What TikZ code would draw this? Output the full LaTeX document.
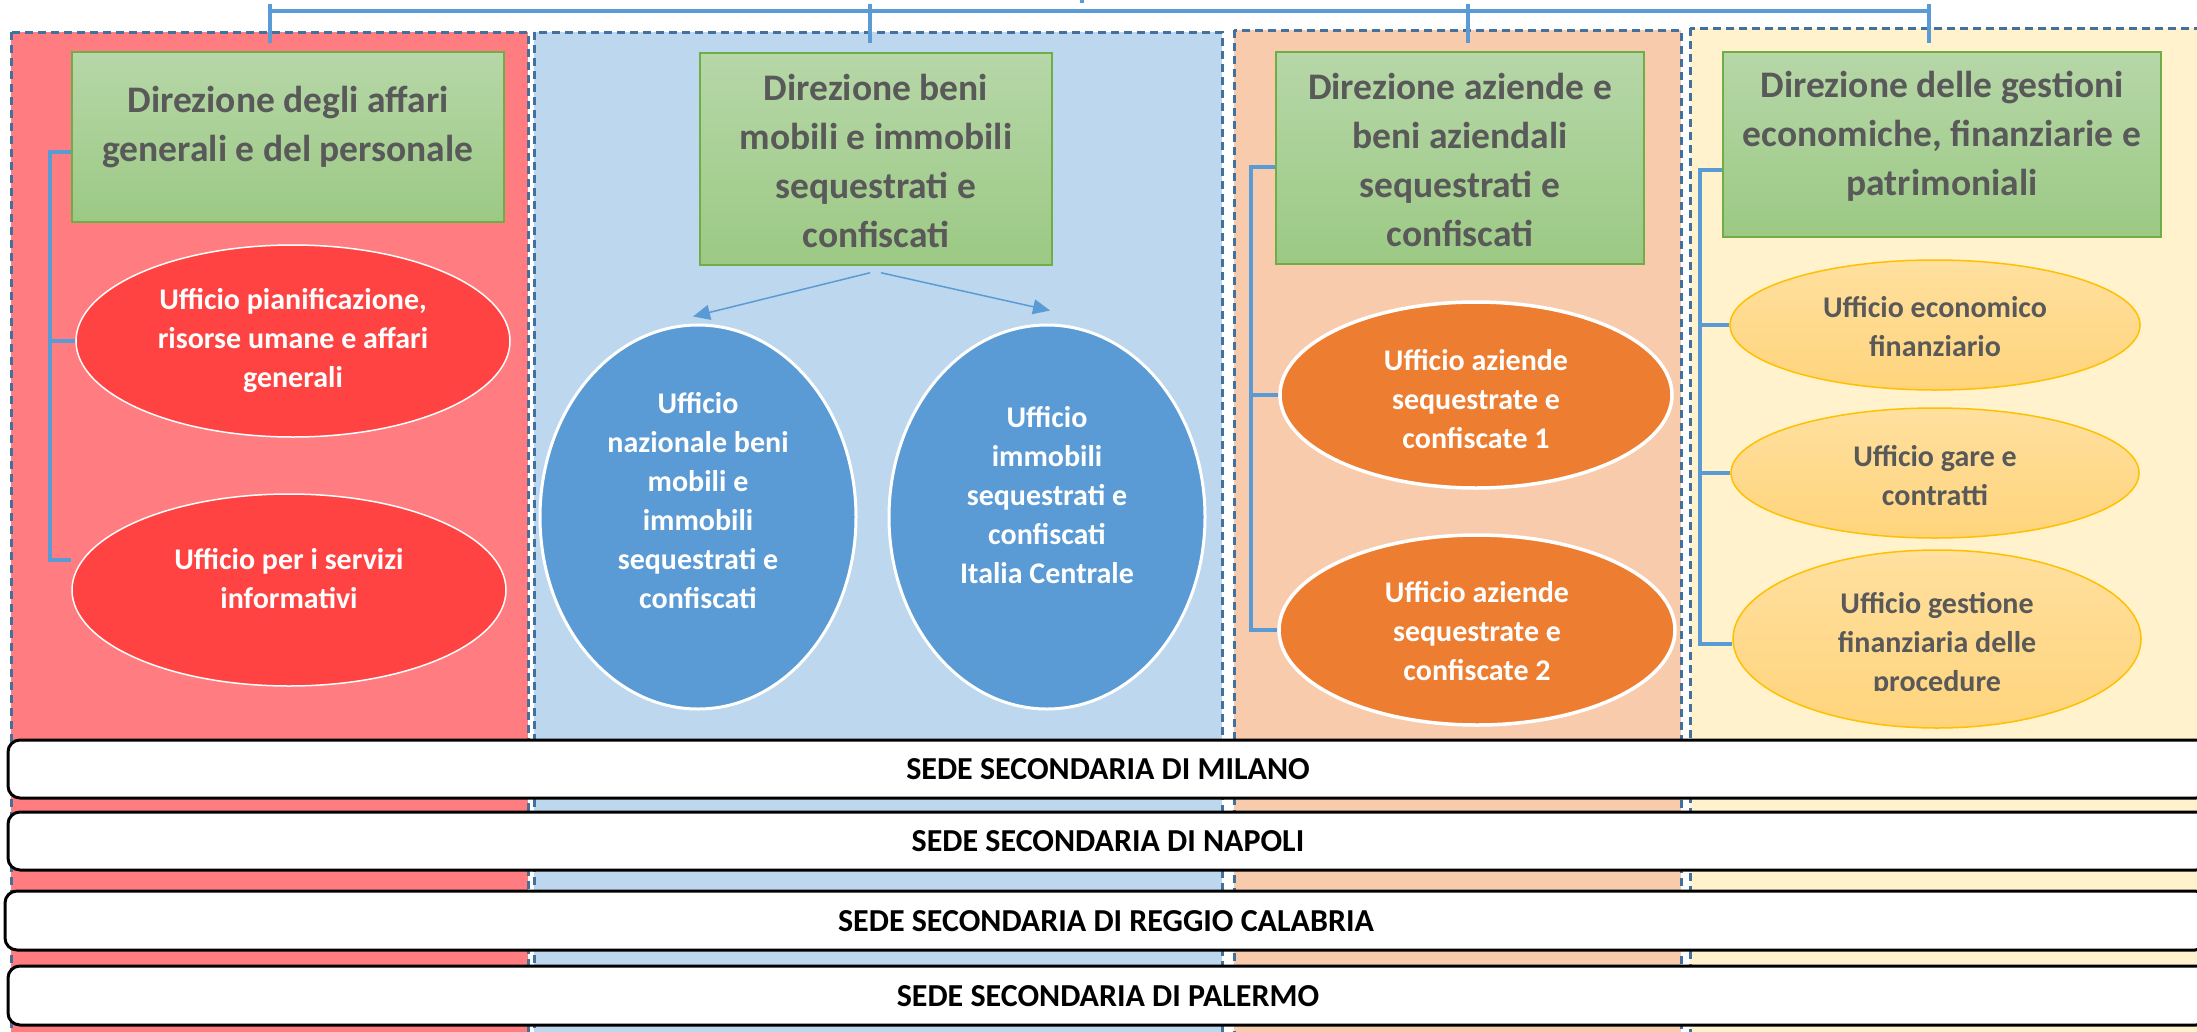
\documentclass[tikz,border=0pt]{standalone}
\usepackage{fontspec}
\setmainfont{Carlito}
\usetikzlibrary{shapes.geometric,arrows.meta,shadings}
\definecolor{redcol}{HTML}{FF7C80}
\definecolor{redell}{HTML}{FF4343}
\definecolor{bluecol}{HTML}{BDD7EE}
\definecolor{blueell}{HTML}{5B9BD5}
\definecolor{peachcol}{HTML}{F8CBAD}
\definecolor{orangeell}{HTML}{ED7D31}
\definecolor{yellowcol}{HTML}{FFF2CC}
\definecolor{yelltop}{HTML}{FFE09F}
\definecolor{yellbot}{HTML}{FFD47C}
\definecolor{yellborder}{HTML}{FFC000}
\definecolor{gtop}{HTML}{B6D7A8}
\definecolor{gbot}{HTML}{9CC984}
\definecolor{gborder}{HTML}{70AD47}
\definecolor{dashc}{HTML}{41719C}
\definecolor{lineblue}{HTML}{5B9BD5}
\definecolor{tgray}{HTML}{595959}
\begin{document}
\begin{tikzpicture}[x=1pt,y=-1pt,
  colborder/.style={draw=dashc, line width=3pt, dash pattern=on 8pt off 5pt},
  gbox/.style={rectangle, draw=gborder, line width=1.5pt, top color=gtop, bottom color=gbot, inner sep=0pt},
  btext/.style={font=\bfseries\fontsize{37.5}{49}\selectfont, text=tgray, align=center, inner sep=0pt},
  etext/.style={font=\bfseries\fontsize{30}{39}\selectfont, align=center, inner sep=0pt},
  redellipse/.style={ellipse, fill=redell, draw=white, line width=1.5pt, inner sep=0pt},
  blueellipse/.style={ellipse, fill=blueell, draw=white, line width=3pt, inner sep=0pt},
  orangeellipse/.style={ellipse, fill=orangeell, draw=white, line width=3.5pt, inner sep=0pt},
  yellowellipse/.style={ellipse, top color=yelltop, bottom color=yellbot, draw=yellborder, line width=1.5pt, inner sep=0pt},
  brk/.style={draw=lineblue, line width=4pt},
  tick/.style={draw=lineblue, line width=3.5pt},
  arr/.style={draw=lineblue, line width=1.5pt, -{Triangle[length=17pt,width=15pt]}},
  sedebar/.style={rectangle, rounded corners=12pt, draw=black, line width=3pt, fill=white, font=\bfseries\fontsize{32}{38}\selectfont, inner sep=0pt, text depth=-4pt}
]
\path[use as bounding box] (0,0) rectangle (2197,1031);
\clip (0,0) rectangle (2197,1031);

% columns
\filldraw[fill=redcol, colborder] (11,32) rectangle (528,1060);
\filldraw[fill=bluecol, colborder] (534,32) rectangle (1222,1060);
\filldraw[fill=peachcol, colborder] (1234,30) rectangle (1681,1060);
\filldraw[fill=yellowcol, colborder] (1690,28) rectangle (2240,1060);

% top bracket
\coordinate (t1) at (270,11);
\coordinate (t2) at (870,11);
\coordinate (t3) at (1468,11);
\coordinate (t4) at (1929,11);
\coordinate (tp) at (1082,0);
\draw[brk] (t1) -- (t4);
\draw[tick] ([yshift=7pt]t1) -- ([yshift=-32pt]t1);
\draw[tick] ([yshift=7pt]t2) -- ([yshift=-32pt]t2);
\draw[tick] ([yshift=7pt]t3) -- ([yshift=-32pt]t3);
\draw[tick] ([yshift=7pt]t4) -- ([yshift=-32pt]t4);
\draw[brk] (tp) -- ++(0,3);

% direction boxes
\node[gbox, minimum width=432pt, minimum height=170pt] (d1) at (288,137) {};
\node[gbox, minimum width=352pt, minimum height=212pt] (d2) at (876,159) {};
\node[gbox, minimum width=368pt, minimum height=212pt] (d3) at (1460,158) {};
\node[gbox, minimum width=438pt, minimum height=185pt] (d4) at (1942,144.5) {};
\node[btext] (d1t) at (288,127) {Direzione degli affari\\generali e del personale};
\node[btext] (d2t) at (876,161) {Direzione beni\\mobili e immobili\\sequestrati e\\confiscati};
\node[btext] (d3t) at (1460,160) {Direzione aziende e\\beni aziendali\\sequestrati e\\confiscati};
\node[btext] (d4t) at (1942,136) {Direzione delle gestioni\\economiche, finanziarie e\\patrimoniali};

% offices
\node[redellipse, minimum width=434pt, minimum height=192pt] (u1) at (293,341) {};
\node[redellipse, minimum width=434pt, minimum height=192pt] (u2) at (289,590) {};
\node[blueellipse, minimum width=316pt, minimum height=384pt] (b1) at (698,517) {};
\node[blueellipse, minimum width=316pt, minimum height=384pt] (b2) at (1047,517) {};
\node[orangeellipse, minimum width=392pt, minimum height=186pt] (a1) at (1476,395) {};
\node[orangeellipse, minimum width=396pt, minimum height=190pt] (a2) at (1477,630) {};
\node[yellowellipse, minimum width=410pt, minimum height=130pt] (y1) at (1935,325) {};
\node[yellowellipse, minimum width=408pt, minimum height=130pt] (y2) at (1935,473) {};
\node[yellowellipse, minimum width=408pt, minimum height=178pt] (y3) at (1937,639) {};

\node[etext, text=white] (u1t) at (293,340) {Ufficio pianificazione,\\risorse umane e affari\\generali};
\node[etext, text=white] (u2t) at (289,579) {Ufficio per i servizi\\informativi};
\node[etext, text=white] (b1t) at (698,501) {Ufficio\\nazionale beni\\mobili e\\immobili\\sequestrati e\\confiscati};
\node[etext, text=white] (b2t) at (1047,495) {Ufficio\\immobili\\sequestrati e\\confiscati\\Italia Centrale};
\node[etext, text=white] (a1t) at (1476,399) {Ufficio aziende\\sequestrate e\\confiscate 1};
\node[etext, text=white] (a2t) at (1477,631) {Ufficio aziende\\sequestrate e\\confiscate 2};
\node[etext, text=tgray] (y1t) at (1935,327) {Ufficio economico\\finanziario};
\node[etext, text=tgray] (y2t) at (1935,476) {Ufficio gare e\\contratti};
\begin{scope}
\clip (1720,540) rectangle (2160,690);
\node[etext, text=tgray] (y3t) at (1937,644) {Ufficio gestione\\finanziaria delle\\procedure};
\end{scope}

% connectors
\coordinate (v1) at (50,152);
\draw[brk] (d1.west |- v1) -- (v1) |- ([yshift=30pt]u2.west);
\draw[brk] (v1 |- u1.west) -- (u1.west);
\coordinate (v3) at (1251,167);
\draw[brk] (d3.west |- v3) -- (v3) |- (a2.west);
\draw[brk] (v3 |- a1.west) -- (a1.west);
\coordinate (v4) at (1700,170);
\draw[brk] (d4.west |- v4) -- (v4) |- ([yshift=-5pt]y3.west);
\draw[brk] (v4 |- y1.west) -- (y1.west);
\draw[brk] (v4 |- y2.west) -- (y2.west);

\draw[arr] ([xshift=-6pt,yshift=-7pt]d2.south) -- ([xshift=-5pt,yshift=7pt]b1.north);
\draw[arr] ([xshift=5pt,yshift=-7pt]d2.south) -- ([xshift=3pt,yshift=13pt]b2.north);

% secondary seats
\node[sedebar, minimum width=2200pt, minimum height=58pt] (milano) at (1108,769) {SEDE SECONDARIA DI MILANO};
\node[sedebar, minimum width=2200pt, minimum height=58pt] (napoli) at (1108,841) {SEDE SECONDARIA DI NAPOLI};
\node[sedebar, minimum width=2202pt, minimum height=59pt] (reggio) at (1106,920.5) {SEDE SECONDARIA DI REGGIO CALABRIA};
\node[sedebar, minimum width=2200pt, minimum height=59pt] (palermo) at (1108,995.5) {SEDE SECONDARIA DI PALERMO};
\end{tikzpicture}
\end{document}
